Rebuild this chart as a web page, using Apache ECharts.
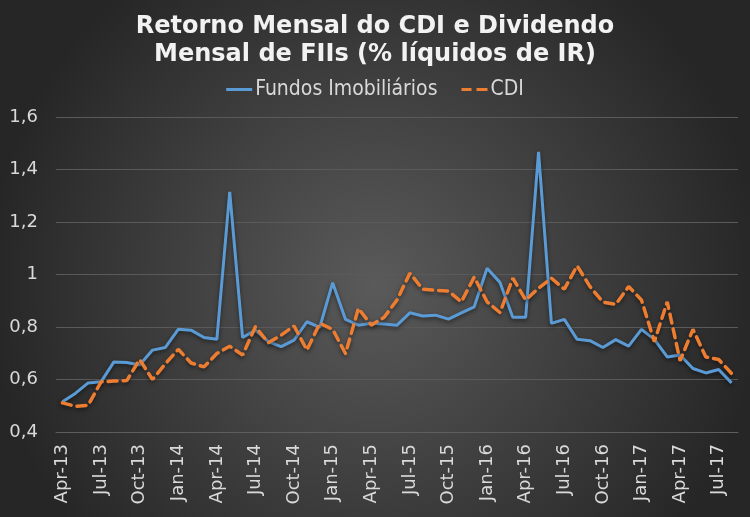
<!DOCTYPE html>
<html>
<head>
<meta charset="utf-8">
<script src="https://cdn.jsdelivr.net/npm/echarts@6/dist/echarts.min.js"></script>
<style>
html,body{margin:0;padding:0;background:#333;}
#c{width:750px;height:517px;}
</style>
</head>
<body>
<div id="c"></div>
<script>
const months = ["Apr-13","May-13","Jun-13","Jul-13","Aug-13","Sep-13","Oct-13","Nov-13","Dec-13",
"Jan-14","Feb-14","Mar-14","Apr-14","May-14","Jun-14","Jul-14","Aug-14","Sep-14","Oct-14","Nov-14","Dec-14",
"Jan-15","Feb-15","Mar-15","Apr-15","May-15","Jun-15","Jul-15","Aug-15","Sep-15","Oct-15","Nov-15","Dec-15",
"Jan-16","Feb-16","Mar-16","Apr-16","May-16","Jun-16","Jul-16","Aug-16","Sep-16","Oct-16","Nov-16","Dec-16",
"Jan-17","Feb-17","Mar-17","Apr-17","May-17","Jun-17","Jul-17","Aug-17"];

const fundosImobiliarios = [0.515,0.547,0.587,0.591,0.667,0.665,0.655,0.712,0.722,0.791,0.788,0.760,0.753,1.315,0.760,0.788,0.744,0.725,0.750,0.820,0.799,0.969,0.829,0.807,0.814,0.811,0.807,0.854,0.842,0.845,0.830,0.854,0.877,1.024,0.970,0.837,0.837,1.467,0.814,0.829,0.753,0.748,0.722,0.752,0.727,0.791,0.753,0.686,0.693,0.642,0.625,0.638,0.587];

const cdi = [0.511,0.498,0.502,0.591,0.594,0.596,0.676,0.600,0.660,0.715,0.663,0.648,0.699,0.727,0.693,0.801,0.740,0.769,0.804,0.712,0.814,0.791,0.699,0.871,0.807,0.837,0.903,1.005,0.944,0.940,0.937,0.896,0.990,0.896,0.855,0.986,0.903,0.948,0.986,0.944,1.033,0.954,0.895,0.886,0.954,0.903,0.744,0.896,0.671,0.791,0.686,0.676,0.623];

const seriesNames = ["Fundos Imobiliários","CDI"];
const titleText = "Retorno Mensal do CDI e Dividendo\nMensal de FIIs (% líquidos de IR)";

const chart = echarts.init(document.getElementById('c'));
const font = "'DejaVu Sans', Verdana, sans-serif";
chart.setOption({
  animation: false,
  backgroundColor: {
    type: 'radial', x: 0.5, y: 0.55, r: 0.75,
    colorStops: [{offset: 0, color: '#5a5a5a'}, {offset: 1, color: '#262626'}]
  },
  title: {
    text: titleText,
    left: 'center', top: 8,
    textStyle: {color: '#f2f2f2', fontFamily: font, fontWeight: 'bold', fontSize: 24, lineHeight: 28}
  },
  legend: {
    top: 74, left: 'center', itemWidth: 26, itemHeight: 3, itemGap: 24,
    data: [
      {name: seriesNames[0], icon: 'path://M0,0h26v3h-26z'},
      {name: seriesNames[1], icon: 'path://M0,0h10v3h-10zM15,0h11v3h-11z'}
    ],
    textStyle: {color: '#d9d9d9', fontFamily: "'DejaVu Sans Condensed', 'DejaVu Sans', sans-serif", fontSize: 21, padding: [0, 0, 0, -2]}
  },
  grid: {left: 56, right: 12, top: 117, bottom: 85},
  xAxis: {
    type: 'category', data: months, boundaryGap: true,
    axisLine: {lineStyle: {color: '#5e5e5e'}},
    axisTick: {show: false},
    axisLabel: {interval: 2, rotate: 90, color: '#d9d9d9', fontFamily: font, fontSize: 18, margin: 12}
  },
  yAxis: {
    type: 'value', min: 0.4, max: 1.6, interval: 0.2,
    axisLine: {show: false}, axisTick: {show: false},
    splitLine: {lineStyle: {color: '#5a5a5a', width: 1}},
    axisLabel: {
      color: '#d9d9d9', fontFamily: font, fontSize: 18, margin: 18,
      formatter: v => String(+v.toFixed(1)).replace('.', ',')
    }
  },
  series: [
    {
      name: seriesNames[0], type: 'line', data: fundosImobiliarios, symbol: 'none',
      lineStyle: {color: '#5b9bd5', width: 3, shadowColor: 'rgba(0,0,0,0.5)', shadowBlur: 4, shadowOffsetY: 2},
      itemStyle: {color: '#5b9bd5'}
    },
    {
      name: seriesNames[1], type: 'line', data: cdi, symbol: 'none',
      lineStyle: {color: '#ed7d31', width: 3.5, type: [9, 6], cap: 'round', shadowColor: 'rgba(0,0,0,0.5)', shadowBlur: 4, shadowOffsetY: 2},
      itemStyle: {color: '#ed7d31'}
    }
  ]
});
</script>
</body>
</html>
